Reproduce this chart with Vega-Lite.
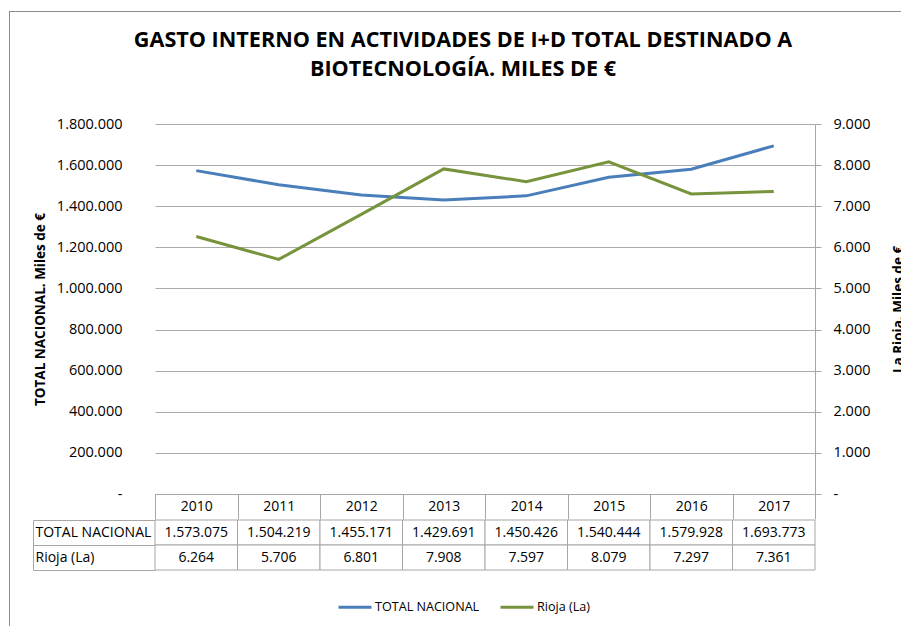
{
  "$schema": "https://vega.github.io/schema/vega-lite/v6.json",
  "padding": {"left": 9, "top": 11, "right": 0, "bottom": 0},
  "background": "white",
  "config": {
    "font": "Open Sans",
    "view": {"stroke": null},
    "locale": {"number": {"decimal": ",", "thousands": ".", "grouping": [3], "currency": ["", " €"]}},
    "axis": {"labelFont": "Open Sans", "labelColor": "#000", "labelFontSize": 14.5, "titleColor": "#000", "titleFont": "Open Sans"}
  },
  "datasets": {
    "d": [
      {"year": "2010", "serie": "TOTAL NACIONAL", "valor": 1573075},
      {"year": "2011", "serie": "TOTAL NACIONAL", "valor": 1504219},
      {"year": "2012", "serie": "TOTAL NACIONAL", "valor": 1455171},
      {"year": "2013", "serie": "TOTAL NACIONAL", "valor": 1429691},
      {"year": "2014", "serie": "TOTAL NACIONAL", "valor": 1450426},
      {"year": "2015", "serie": "TOTAL NACIONAL", "valor": 1540444},
      {"year": "2016", "serie": "TOTAL NACIONAL", "valor": 1579928},
      {"year": "2017", "serie": "TOTAL NACIONAL", "valor": 1693773},
      {"year": "2010", "serie": "Rioja (La)", "valor": 6264},
      {"year": "2011", "serie": "Rioja (La)", "valor": 5706},
      {"year": "2012", "serie": "Rioja (La)", "valor": 6801},
      {"year": "2013", "serie": "Rioja (La)", "valor": 7908},
      {"year": "2014", "serie": "Rioja (La)", "valor": 7597},
      {"year": "2015", "serie": "Rioja (La)", "valor": 8079},
      {"year": "2016", "serie": "Rioja (La)", "valor": 7297},
      {"year": "2017", "serie": "Rioja (La)", "valor": 7361}
    ]
  },
  "vconcat": [
    {
      "data": {"values": []},
      "mark": {"type": "point", "opacity": 0},
      "width": 892,
      "height": 1,
      "view": {"fill": "#8c8c8c", "stroke": null}
    },
    {
      "hconcat": [
        {
          "data": {"values": []},
          "mark": {"type": "point", "opacity": 0},
          "width": 1,
          "height": 614,
          "view": {"fill": "#8c8c8c", "stroke": null}
        },
        {
          "vconcat": [
            {
              "data": {"values": []},
              "mark": {"type": "point", "opacity": 0},
              "width": 660,
              "height": 1,
              "title": {
                "text": ["GASTO INTERNO EN ACTIVIDADES DE I+D TOTAL DESTINADO A", "BIOTECNOLOGÍA. MILES DE €"],
                "orient": "bottom",
                "font": "Open Sans",
                "fontSize": 21.6,
                "fontWeight": "bold",
                "color": "#000",
                "lineHeight": 29,
                "anchor": "middle",
                "frame": "group",
                "dx": -22,
                "offset": 17
              }
            },
            {
              "vconcat": [
                {
                  "data": {"name": "d"},
                  "width": 660,
                  "height": 370,
                  "encoding": {
                    "x": {
                      "field": "year", "type": "ordinal",
                      "scale": {"type": "band", "paddingInner": 0, "paddingOuter": 0},
                      "axis": {"title": null, "labelAngle": 0, "tickSize": 25, "tickBand": "extent", "tickColor": "#a6a6a6", "domainColor": "#a6a6a6", "labelPadding": -12.5, "labelBaseline": "middle", "labelFontSize": 14}
                    },
                    "color": {
                      "field": "serie", "type": "nominal",
                      "scale": {"domain": ["TOTAL NACIONAL", "Rioja (La)"], "range": ["#4a7ebb", "#77933c"]},
                      "legend": {"orient": "none", "legendX": 328, "legendY": 578, "direction": "horizontal", "title": null, "symbolType": "stroke", "symbolSize": 1089, "symbolStrokeWidth": 3, "labelFontSize": 12.6, "labelOffset": 2, "columnPadding": 14, "labelColor": "#000", "labelFont": "Open Sans"}
                    }
                  },
                  "layer": [
                    {
                      "transform": [{"filter": "datum.serie == 'TOTAL NACIONAL'"}],
                      "mark": {"type": "line", "strokeWidth": 3},
                      "encoding": {
                        "y": {
                          "field": "valor", "type": "quantitative",
                          "scale": {"domain": [0, 1800000]},
                          "axis": {"title": "TOTAL NACIONAL. Miles de €", "titleFontSize": 13.5, "titleFontWeight": "bold", "titlePadding": 9, "values": [0, 200000, 400000, 600000, 800000, 1000000, 1200000, 1400000, 1600000, 1800000], "format": ",d", "labelExpr": "datum.value == 0 ? '-\u00a0\u00a0\u00a0\u00a0\u00a0' : datum.label", "grid": true, "gridColor": "#aaaaaa", "domain": false, "ticks": false, "labelPadding": 33}
                        }
                      }
                    },
                    {
                      "transform": [{"filter": "datum.serie == 'Rioja (La)'"}],
                      "mark": {"type": "line", "strokeWidth": 3},
                      "encoding": {
                        "y": {
                          "field": "valor", "type": "quantitative",
                          "scale": {"domain": [0, 9000]},
                          "axis": {"orient": "right", "title": "La Rioja. Miles de €", "titleFontSize": 13.5, "titleFontWeight": "bold", "titleAngle": -90, "titleBaseline": "top", "titlePadding": 22, "values": [0, 1000, 2000, 3000, 4000, 5000, 6000, 7000, 8000, 9000], "format": ",d", "labelExpr": "datum.value == 0 ? '-' : datum.label", "grid": false, "domain": true, "domainColor": "#a6a6a6", "ticks": true, "tickSize": 6, "tickColor": "#a6a6a6", "labelPadding": 12}
                        }
                      }
                    }
                  ],
                  "resolve": {"scale": {"y": "independent"}}
                },
                {
                  "data": {"name": "d"},
                  "width": 660,
                  "height": 50,
                  "encoding": {
                    "x": {"field": "year", "type": "ordinal", "scale": {"type": "band", "paddingInner": 0, "paddingOuter": 0}, "axis": null},
                    "y": {
                      "field": "serie", "type": "nominal", "sort": ["TOTAL NACIONAL", "Rioja (La)"],
                      "scale": {"paddingInner": 0, "paddingOuter": 0},
                      "axis": {"title": null, "offset": 122, "domainColor": "#a6a6a6", "tickColor": "#a6a6a6", "tickSize": -122, "tickBand": "extent", "labelAlign": "left", "labelPadding": 120, "labelFontSize": 14, "labelBaseline": "middle"}
                    }
                  },
                  "layer": [
                    {"mark": {"type": "rect", "fill": "white", "stroke": "#a6a6a6", "strokeWidth": 1}},
                    {"mark": {"type": "text", "fontSize": 14, "color": "#000"}, "encoding": {"text": {"field": "valor", "type": "quantitative", "format": ",d"}}}
                  ]
                }
              ],
              "spacing": -7
            }
          ],
          "spacing": 35,
          "resolve": {"scale": {"color": "shared"}, "legend": {"color": "shared"}}
        }
      ],
      "spacing": 22
    }
  ],
  "spacing": 0
}
